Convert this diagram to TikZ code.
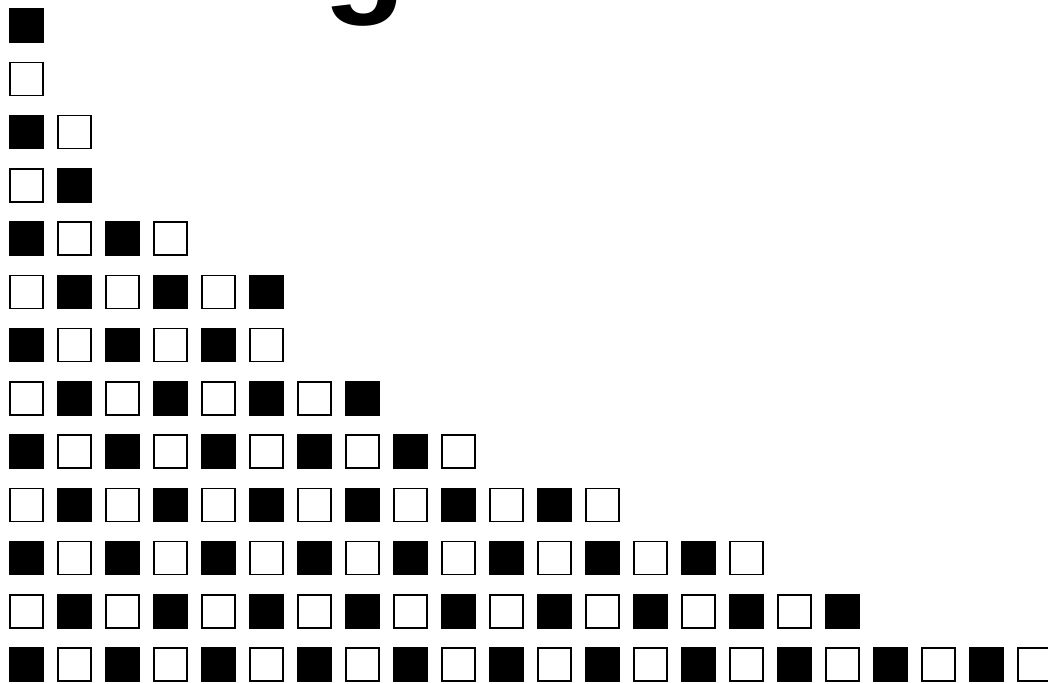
\documentclass[tikz,border=0pt]{standalone}
\usepackage{fontspec}
\setmainfont{Liberation Sans}
\usetikzlibrary{positioning}

\begin{document}
\begin{tikzpicture}[x=1pt, y=-1pt,
    sq/.style={rectangle, draw=black, line width=1.5pt, minimum size=33pt, inner sep=0pt}]
\useasboundingbox (0,0) rectangle (1048,683);
% title, cut by the top edge
\node[anchor=base west, inner sep=0pt, font=\fontsize{136pt}{136pt}\selectfont\bfseries] (title) at (323,-2.5) {global Talent};

% rows of alternating squares
\foreach \n [count=\r] in {1,1,2,2,4,6,6,8,10,13,16,18,22} {
  \foreach \c in {1,...,\n} {
    \pgfmathtruncatemacro{\odd}{mod(\r+\c,2)}
    \ifnum\odd=0 \def\fc{black}\else\def\fc{white}\fi
    \node[sq, fill=\fc] (sq-\r-\c) at ({26.5+48*(\c-1)}, {25.5+53.25*(\r-1)}) {};
  }
}
\end{tikzpicture}
\end{document}
